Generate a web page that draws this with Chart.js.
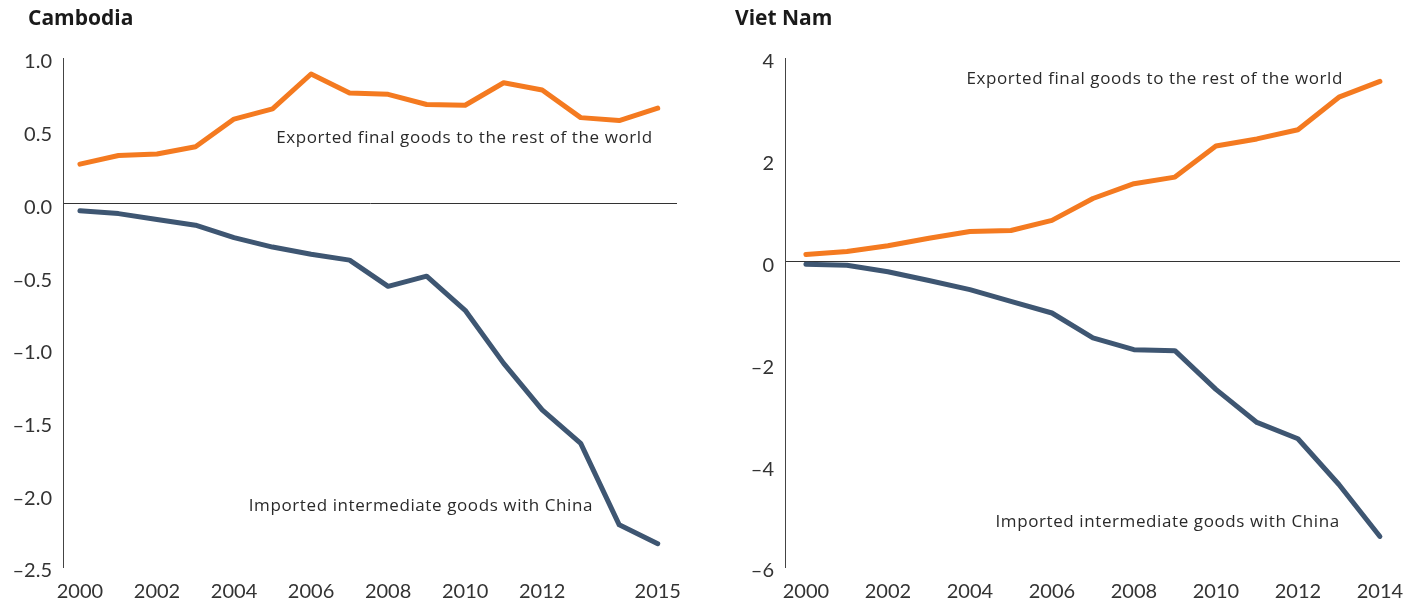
<!DOCTYPE html>
<html>
<head>
<meta charset="utf-8">
<script src="https://cdn.jsdelivr.net/npm/chart.js@4.4.1/dist/chart.umd.min.js"></script>
<style>
  html, body { margin: 0; padding: 0; background: #ffffff; }
  body { width: 1423px; height: 605px; position: relative; overflow: hidden; }
  .box { position: absolute; top: 0; height: 605px; }
  #leftBox { left: 0; width: 710px; }
  #rightBox { left: 710px; width: 713px; }
</style>
</head>
<body>
<div class="box" id="leftBox"><canvas id="cambodia"></canvas></div>
<div class="box" id="rightBox"><canvas id="vietnam"></canvas></div>
<script>
// ---------- DATA ----------
const cambodiaYears = [2000, 2001, 2002, 2003, 2004, 2005, 2006, 2007, 2008, 2009, 2010, 2011, 2012, 2013, 2014, 2015];
const cambodiaExported = [0.27, 0.33, 0.34, 0.39, 0.58, 0.65, 0.89, 0.76, 0.75, 0.68, 0.675, 0.83, 0.78, 0.59, 0.57, 0.655];
const cambodiaImported = [-0.05, -0.07, -0.11, -0.15, -0.235, -0.30, -0.35, -0.39, -0.57, -0.50, -0.735, -1.10, -1.42, -1.65, -2.21, -2.34];
const cambodiaXTicks = [2000, 2002, 2004, 2006, 2008, 2010, 2012, 2015];
const cambodiaYTicks = [1.0, 0.5, 0.0, -0.5, -1.0, -1.5, -2.0, -2.5];

const vietnamYears = [2000, 2001, 2002, 2003, 2004, 2005, 2006, 2007, 2008, 2009, 2010, 2011, 2012, 2013, 2014];
const vietnamExported = [0.14, 0.20, 0.31, 0.46, 0.59, 0.61, 0.81, 1.24, 1.53, 1.66, 2.27, 2.41, 2.59, 3.23, 3.54];
const vietnamImported = [-0.05, -0.07, -0.20, -0.37, -0.55, -0.78, -1.01, -1.50, -1.73, -1.75, -2.51, -3.16, -3.48, -4.38, -5.40];
const vietnamXTicks = [2000, 2002, 2004, 2006, 2008, 2010, 2012, 2014];
const vietnamYTicks = [4, 2, 0, -2, -4, -6];

const exportedLabel = 'Exported final goods to the rest of the world';
const importedLabel = 'Imported intermediate goods with China';

// ---------- STYLE ----------
const ORANGE = '#F47A20';
const NAVY = '#3E5672';
const FONT = 'Lato, "Open Sans", sans-serif';
const NOTE_FONT = '"Open Sans", Lato, sans-serif';

function minusFmt(v, dec) {
  const s = Math.abs(v).toFixed(dec);
  return v < 0 ? '\u2013' + s : s;
}

const panelPlugin = {
  id: 'panelText',
  afterDraw(chart, args, opts) {
    const ctx = chart.ctx;
    const xs = chart.scales.x, ys = chart.scales.y;
    ctx.save();
    ctx.fillStyle = '#1a1a1a';
    ctx.font = 'bold 21px ' + NOTE_FONT;
    ctx.textAlign = 'left';
    ctx.textBaseline = 'middle';
    ctx.fillText(opts.title, opts.titleX, 19);
    ctx.font = '17px ' + NOTE_FONT;
    if ('letterSpacing' in ctx) ctx.letterSpacing = '0.6px';
    ctx.fillStyle = '#2a2a2a';
    ctx.textAlign = 'right';
    for (const a of opts.notes) {
      ctx.fillText(a.text, xs.getPixelForValue(a.x), ys.getPixelForValue(a.y));
    }
    ctx.restore();
  }
};

function makeChart(id, cfg) {
  return new Chart(document.getElementById(id), {
    type: 'line',
    data: {
      datasets: [
        { data: cfg.years.map((y, i) => ({ x: y, y: cfg.exported[i] })), borderColor: ORANGE },
        { data: cfg.years.map((y, i) => ({ x: y, y: cfg.imported[i] })), borderColor: NAVY }
      ]
    },
    options: {
      responsive: true,
      maintainAspectRatio: false,
      animation: false,
      layout: { padding: { top: 58, right: cfg.padRight, bottom: 0, left: 0 } },
      elements: {
        point: { radius: 0 },
        line: { borderWidth: 5, tension: 0, borderCapStyle: 'round', borderJoinStyle: 'round', fill: false }
      },
      plugins: {
        legend: { display: false },
        tooltip: { enabled: false },
        panelText: { title: cfg.title, titleX: cfg.titleX, notes: cfg.notes }
      },
      scales: {
        x: {
          type: 'linear',
          min: cfg.xMin, max: cfg.xMax,
          grid: { display: false, drawTicks: false },
          border: { display: false },
          afterBuildTicks: (s) => { s.ticks = cfg.xTicks.map(v => ({ value: v })); },
          afterFit: (s) => { s.height = 38; },
          ticks: {
            padding: 13, maxRotation: 0, autoSkip: false,
            color: '#333', font: { family: FONT, size: 20 },
            callback: (v) => String(v)
          }
        },
        y: {
          min: cfg.yMin, max: cfg.yMax,
          afterBuildTicks: (s) => { s.ticks = cfg.yTicks.map(v => ({ value: v })); },
          afterFit: (s) => { s.width = cfg.yWidth; },
          grid: {
            drawTicks: false,
            color: (c) => (c.tick && c.tick.value === 0) ? '#333' : 'rgba(0,0,0,0)',
            lineWidth: 1
          },
          border: { display: true, color: '#444', width: 1 },
          ticks: {
            padding: 11, labelOffset: 4,
            color: '#333', font: { family: FONT, size: 20 },
            callback: (v) => minusFmt(v, cfg.dec)
          }
        }
      }
    },
    plugins: [panelPlugin]
  });
}

makeChart('cambodia', {
  title: 'Cambodia', titleX: 28, padRight: 33,
  years: cambodiaYears, exported: cambodiaExported, imported: cambodiaImported,
  xTicks: cambodiaXTicks, yTicks: cambodiaYTicks,
  xMin: 1999.56, xMax: 2015.5, yMin: -2.5, yMax: 1.0, yWidth: 63, dec: 1,
  notes: [
    { text: exportedLabel, x: 2014.87, y: 0.45 },
    { text: importedLabel, x: 2013.32, y: -2.08 }
  ]
});

makeChart('vietnam', {
  title: 'Viet Nam', titleX: 25, padRight: 23,
  years: vietnamYears, exported: vietnamExported, imported: vietnamImported,
  xTicks: vietnamXTicks, yTicks: vietnamYTicks,
  xMin: 1999.49, xMax: 2014.49, yMin: -6, yMax: 4, yWidth: 75, dec: 0,
  notes: [
    { text: exportedLabel, x: 2013.1, y: 3.58 },
    { text: importedLabel, x: 2013.02, y: -5.11 }
  ]
});
</script>
</body>
</html>
